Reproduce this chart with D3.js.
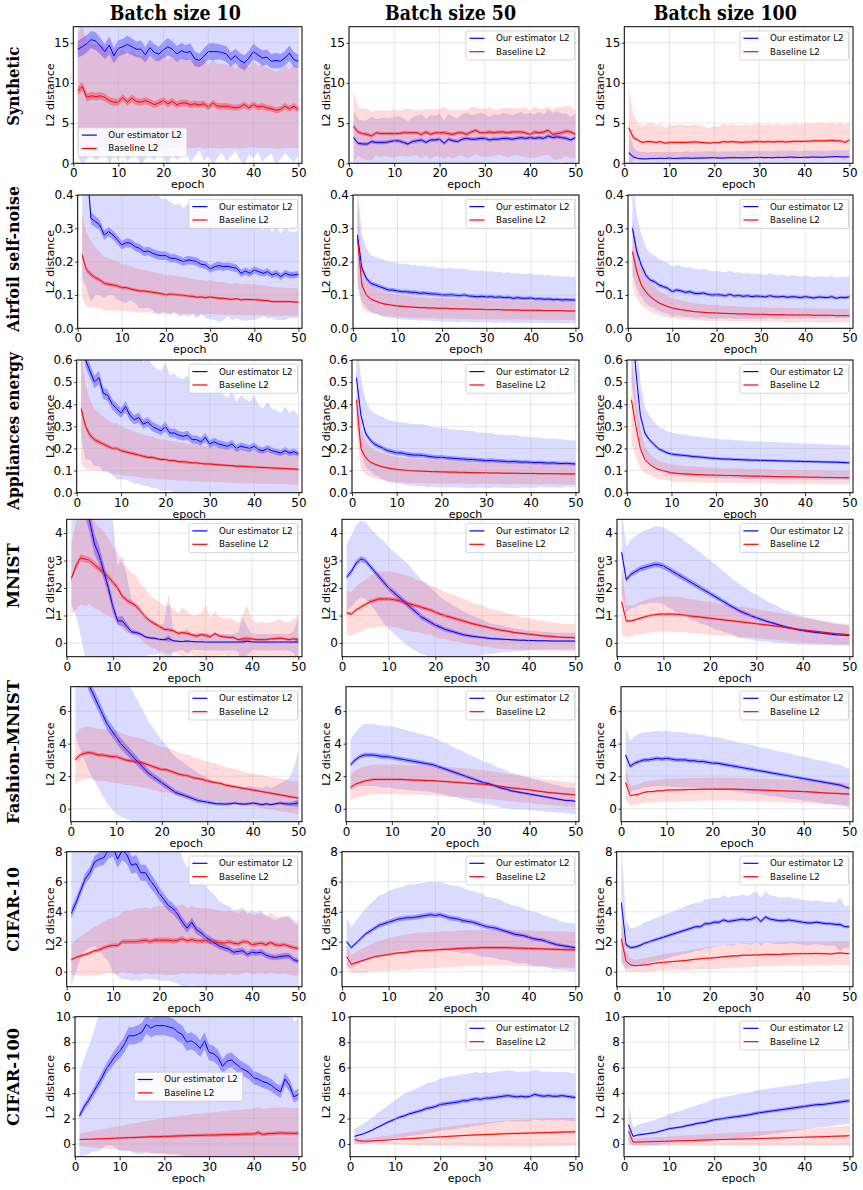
<!DOCTYPE html>
<html>
<head>
<meta charset="utf-8">
<script src="https://cdn.jsdelivr.net/npm/d3@7"></script>
<style>
  body { margin: 0; background: #fff; }
  svg { display: block; }
</style>
</head>
<body>
<div id="graf"></div>
<script>
// epocas del entrenamiento
const epocas = d3.range(1, 51)

// ---------------- Synthetic ----------------
const synB10Ours = [14.2,14.5,14.9,15.4,15.2,14.6,13.9,14.7,13.4,14.3,14.5,14.8,14.5,14.2,14.2,13.5,14.4,13.8,13.6,14.1,14.5,14.2,13.6,14.0,13.8,13.9,13.0,12.8,13.3,13.9,13.9,13.9,13.8,13.6,12.9,13.4,12.8,12.5,13.1,13.9,13.5,13.1,13.2,12.7,12.8,12.7,13.1,13.7,12.9,12.7]
const synB10OursSd = [13.2,14.8,14.4,14.2,14.9,13.8,12.4,14.9,12.5,13.9,12.9,14.6,13.7,12.9,14.6,12.9,13.3,13.5,12.1,13.4,14.7,13.0,13.2,13.1,12.4,13.8,12.2,11.2,13.0,12.9,14.2,13.2,12.5,13.4,12.0,11.9,12.4,12.6,12.0,13.3,12.1,12.9,12.4,11.5,13.0,12.2,11.8,13.0,12.8,11.8]
const synB10Base = [9.0,9.6,8.2,8.4,8.3,8.4,8.2,7.8,7.6,7.6,8.2,7.6,8.1,7.7,7.6,7.8,7.6,7.3,7.5,7.8,7.4,7.7,7.3,7.5,7.5,7.3,7.4,7.3,7.4,7.0,7.5,7.1,7.1,7.1,7.0,6.9,7.0,7.3,6.9,7.3,7.0,7.1,6.9,6.8,6.6,6.7,7.1,6.8,7.1,6.7]
const synB10BaseSd = [7.2,7.5,6.8,6.6,6.5,6.4,6.3,6.0,6.1,5.9,6.2,5.8,6.1,5.9,5.7,5.9,5.8,5.5,5.7,5.9,5.5,5.8,5.4,5.6,5.7,5.4,5.5,5.3,5.6,5.1,5.6,5.2,5.3,5.2,5.1,5.0,5.2,5.4,5.0,5.3,5.1,5.2,5.0,4.9,4.8,4.9,5.2,4.9,5.2,4.9]
const synB50Ours = [3.2,2.5,2.4,2.4,2.7,2.6,2.6,2.6,2.7,2.8,2.8,2.6,2.4,2.7,2.8,2.9,2.6,2.9,2.9,3.0,2.5,3.0,2.8,2.7,3.0,3.1,3.0,3.0,3.1,3.1,2.9,3.0,3.0,3.1,3.1,3.0,3.1,3.2,3.1,3.2,3.1,3.2,3.1,3.4,3.2,3.3,3.2,3.1,2.9,3.2]
const synB50OursSd = [3.3,3.0,2.9,3.0,3.1,2.9,3.0,3.1,2.9,3.0,3.1,3.0,2.8,3.0,3.1,3.2,2.9,3.1,3.0,3.2,2.8,3.1,3.0,2.9,3.1,3.2,3.0,3.1,3.2,3.0,2.9,3.1,3.0,3.2,3.1,3.0,3.1,3.2,3.0,3.1,3.0,3.2,3.0,3.3,3.1,3.2,3.0,3.1,2.9,3.0]
const synB50Base = [4.6,3.9,3.7,3.6,3.4,3.8,3.7,3.7,3.7,3.7,3.7,3.8,3.8,3.8,3.8,3.6,3.9,3.6,3.8,3.8,3.8,3.7,3.6,3.8,3.8,3.6,3.9,4.1,3.8,3.8,3.9,3.8,3.9,3.9,3.8,3.9,3.9,3.9,3.8,3.6,3.9,3.8,3.9,4.1,3.6,3.7,3.8,4.0,3.9,3.6]
const synB50BaseSd = [4.4,3.0,3.1,3.2,3.0,2.8,2.9,2.8,2.9,3.0,2.8,2.9,3.0,2.9,2.8,3.0,2.9,3.1,2.9,3.0,3.2,2.9,3.0,2.9,2.8,3.0,3.1,2.9,3.0,3.0,3.1,2.9,2.8,3.0,3.1,3.0,2.9,3.0,3.1,2.9,3.2,3.0,2.9,3.0,3.1,3.3,3.2,3.1,3.3,2.9]
const synB100Ours = [1.3,0.8,0.6,0.55,0.55,0.6,0.6,0.62,0.6,0.65,0.6,0.62,0.65,0.65,0.62,0.65,0.65,0.66,0.68,0.7,0.65,0.65,0.68,0.7,0.7,0.68,0.7,0.7,0.72,0.75,0.7,0.72,0.68,0.75,0.72,0.75,0.78,0.74,0.72,0.75,0.75,0.78,0.76,0.75,0.78,0.8,0.85,0.8,0.8,0.8]
const synB100OursSd = [2.5,1.3,0.9,0.85,0.8,0.8,0.84,0.8,0.76,0.8,0.84,0.8,0.78,0.84,0.8,0.82,0.78,0.8,0.84,0.8,0.78,0.82,0.8,0.78,0.84,0.8,0.79,0.82,0.8,0.78,0.84,0.8,0.78,0.82,0.8,0.79,0.84,0.8,0.78,0.82,0.8,0.78,0.84,0.8,0.79,0.82,0.8,0.78,0.84,0.8]
const synB100Base = [4.4,3.2,2.9,2.6,2.7,2.7,2.6,2.7,2.5,2.6,2.6,2.6,2.6,2.6,2.65,2.65,2.6,2.55,2.5,2.6,2.55,2.7,2.65,2.7,2.65,2.6,2.65,2.65,2.7,2.7,2.65,2.7,2.65,2.7,2.7,2.65,2.7,2.75,2.7,2.75,2.75,2.8,2.8,2.8,2.8,2.85,2.8,2.8,2.6,2.9]
const synB100BaseSd = [5.1,2.8,2.2,2.0,2.2,2.3,2.1,2.2,1.9,2.2,2.1,2.2,2.2,2.1,2.1,2.2,2.1,2.0,1.9,2.1,2.0,2.2,2.1,2.2,2.1,2.1,2.2,2.1,2.2,2.2,2.1,2.2,2.1,2.2,2.1,2.2,2.1,2.2,2.1,2.2,2.2,2.1,2.2,2.2,2.1,2.2,2.1,2.2,2.2,2.1]

// ---------------- Airfoil ----------------
const airB10Ours = [0.6,0.5,0.33,0.32,0.31,0.28,0.29,0.28,0.265,0.25,0.257,0.255,0.245,0.24,0.23,0.232,0.225,0.22,0.218,0.218,0.21,0.21,0.205,0.2,0.205,0.203,0.2,0.192,0.19,0.178,0.185,0.188,0.185,0.186,0.183,0.18,0.165,0.172,0.165,0.175,0.17,0.165,0.17,0.16,0.165,0.155,0.165,0.16,0.16,0.162]
const airB10OursSd = [0.45,0.38,0.25,0.22,0.21,0.19,0.19,0.18,0.18,0.17,0.18,0.17,0.17,0.18,0.17,0.17,0.17,0.18,0.17,0.17,0.17,0.16,0.17,0.16,0.17,0.16,0.17,0.15,0.16,0.15,0.16,0.17,0.16,0.15,0.16,0.15,0.14,0.15,0.14,0.15,0.14,0.13,0.14,0.13,0.14,0.13,0.14,0.13,0.13,0.13]
const airB10Base = [0.22,0.175,0.162,0.152,0.145,0.135,0.132,0.13,0.127,0.122,0.122,0.118,0.115,0.112,0.112,0.11,0.108,0.106,0.104,0.1,0.103,0.101,0.1,0.099,0.097,0.096,0.093,0.094,0.092,0.094,0.092,0.09,0.09,0.088,0.087,0.089,0.085,0.087,0.086,0.086,0.085,0.084,0.083,0.08,0.08,0.08,0.08,0.08,0.079,0.078]
const airB10BaseSd = [0.125,0.11,0.1,0.09,0.085,0.08,0.08,0.075,0.075,0.07,0.07,0.068,0.066,0.065,0.064,0.062,0.062,0.06,0.06,0.058,0.058,0.056,0.056,0.055,0.054,0.053,0.052,0.052,0.05,0.051,0.05,0.049,0.049,0.048,0.047,0.048,0.046,0.047,0.046,0.046,0.045,0.045,0.044,0.043,0.043,0.043,0.042,0.042,0.042,0.041]
const airB50Ours = [0.28,0.18,0.15,0.135,0.13,0.125,0.12,0.115,0.115,0.112,0.11,0.11,0.108,0.108,0.105,0.106,0.104,0.103,0.102,0.1,0.1,0.101,0.099,0.098,0.1,0.097,0.096,0.095,0.096,0.094,0.095,0.093,0.094,0.092,0.093,0.09,0.092,0.09,0.09,0.091,0.088,0.089,0.087,0.088,0.086,0.087,0.085,0.086,0.085,0.085]
const airB50OursSd = [0.15,0.1,0.09,0.085,0.085,0.085,0.085,0.085,0.084,0.084,0.083,0.084,0.082,0.083,0.082,0.082,0.081,0.082,0.08,0.08,0.08,0.081,0.079,0.08,0.079,0.078,0.078,0.077,0.078,0.076,0.077,0.076,0.076,0.075,0.075,0.074,0.075,0.074,0.073,0.074,0.072,0.073,0.072,0.072,0.071,0.071,0.07,0.071,0.07,0.07]
const airB50Base = [0.27,0.13,0.1,0.088,0.082,0.077,0.073,0.071,0.069,0.067,0.066,0.065,0.064,0.063,0.062,0.062,0.061,0.061,0.06,0.06,0.06,0.059,0.059,0.058,0.058,0.058,0.057,0.057,0.057,0.056,0.056,0.056,0.056,0.055,0.055,0.055,0.055,0.054,0.054,0.054,0.054,0.054,0.053,0.053,0.053,0.053,0.053,0.052,0.052,0.052]
const airB50BaseSd = [0.13,0.07,0.05,0.042,0.04,0.038,0.036,0.035,0.034,0.034,0.033,0.033,0.033,0.032,0.032,0.032,0.031,0.031,0.031,0.031,0.03,0.03,0.03,0.03,0.03,0.03,0.03,0.03,0.03,0.029,0.029,0.029,0.029,0.029,0.029,0.029,0.028,0.028,0.028,0.028,0.028,0.028,0.028,0.028,0.028,0.028,0.028,0.027,0.027,0.027]
const airB100Ours = [0.3,0.23,0.19,0.16,0.145,0.14,0.13,0.125,0.12,0.11,0.115,0.112,0.108,0.11,0.105,0.104,0.106,0.102,0.1,0.101,0.1,0.098,0.102,0.097,0.099,0.096,0.098,0.095,0.097,0.096,0.094,0.098,0.095,0.094,0.096,0.093,0.095,0.094,0.092,0.095,0.093,0.091,0.094,0.093,0.092,0.095,0.09,0.093,0.092,0.094]
const airB100OursSd = [0.14,0.11,0.095,0.085,0.08,0.08,0.078,0.078,0.076,0.075,0.076,0.075,0.074,0.075,0.073,0.072,0.073,0.072,0.071,0.072,0.07,0.07,0.071,0.069,0.07,0.068,0.069,0.067,0.068,0.067,0.066,0.067,0.066,0.065,0.066,0.064,0.065,0.064,0.063,0.064,0.063,0.062,0.063,0.062,0.062,0.063,0.06,0.062,0.061,0.062]
const airB100Base = [0.23,0.17,0.13,0.11,0.095,0.085,0.076,0.07,0.065,0.061,0.058,0.056,0.054,0.052,0.05,0.049,0.048,0.047,0.046,0.046,0.045,0.045,0.044,0.044,0.043,0.043,0.043,0.042,0.042,0.042,0.042,0.041,0.041,0.041,0.041,0.04,0.04,0.04,0.04,0.04,0.04,0.039,0.039,0.039,0.039,0.039,0.038,0.038,0.038,0.038]
const airB100BaseSd = [0.1,0.08,0.06,0.05,0.045,0.04,0.036,0.034,0.032,0.03,0.029,0.028,0.027,0.026,0.026,0.025,0.025,0.024,0.024,0.024,0.023,0.023,0.023,0.023,0.022,0.022,0.022,0.022,0.022,0.022,0.021,0.021,0.021,0.021,0.021,0.021,0.021,0.021,0.02,0.02,0.02,0.02,0.02,0.02,0.02,0.02,0.02,0.02,0.02,0.02]

// ---------------- Appliances ----------------
const appB10Ours = [0.75,0.6,0.55,0.5,0.52,0.45,0.44,0.4,0.38,0.36,0.39,0.35,0.33,0.34,0.31,0.32,0.3,0.29,0.28,0.3,0.27,0.27,0.26,0.255,0.26,0.24,0.24,0.23,0.25,0.22,0.23,0.22,0.215,0.21,0.22,0.2,0.21,0.205,0.2,0.21,0.195,0.19,0.2,0.19,0.185,0.18,0.19,0.18,0.185,0.175]
const appB10OursSd = [0.5,0.45,0.4,0.38,0.4,0.35,0.34,0.32,0.32,0.3,0.33,0.3,0.29,0.3,0.28,0.29,0.28,0.27,0.27,0.29,0.26,0.27,0.26,0.26,0.27,0.25,0.25,0.24,0.27,0.23,0.25,0.24,0.23,0.22,0.24,0.21,0.23,0.22,0.21,0.23,0.2,0.19,0.21,0.19,0.19,0.18,0.2,0.18,0.19,0.17]
const appB10Base = [0.38,0.3,0.26,0.24,0.23,0.22,0.21,0.2,0.2,0.19,0.185,0.18,0.175,0.17,0.165,0.16,0.16,0.155,0.15,0.15,0.145,0.145,0.14,0.14,0.138,0.135,0.135,0.132,0.13,0.13,0.128,0.126,0.125,0.123,0.122,0.12,0.12,0.118,0.117,0.116,0.115,0.114,0.113,0.112,0.111,0.11,0.109,0.108,0.107,0.105]
const appB10BaseSd = [0.25,0.19,0.16,0.14,0.13,0.125,0.12,0.115,0.115,0.11,0.108,0.105,0.102,0.1,0.098,0.096,0.095,0.093,0.091,0.09,0.089,0.088,0.087,0.086,0.085,0.084,0.083,0.082,0.081,0.08,0.08,0.079,0.078,0.078,0.077,0.076,0.076,0.075,0.075,0.074,0.074,0.073,0.073,0.072,0.072,0.071,0.071,0.07,0.07,0.07]
const appB50Ours = [0.52,0.35,0.27,0.24,0.22,0.21,0.2,0.19,0.185,0.18,0.18,0.175,0.172,0.17,0.17,0.168,0.165,0.162,0.16,0.16,0.158,0.156,0.155,0.153,0.152,0.15,0.15,0.148,0.147,0.145,0.146,0.144,0.143,0.142,0.14,0.141,0.14,0.138,0.139,0.137,0.136,0.137,0.135,0.134,0.135,0.133,0.132,0.133,0.131,0.13]
const appB50OursSd = [0.2,0.17,0.15,0.14,0.14,0.14,0.14,0.14,0.14,0.14,0.14,0.14,0.14,0.14,0.14,0.14,0.14,0.135,0.135,0.135,0.135,0.13,0.13,0.13,0.13,0.13,0.13,0.125,0.125,0.125,0.125,0.12,0.12,0.12,0.12,0.12,0.12,0.115,0.115,0.115,0.115,0.11,0.11,0.11,0.11,0.11,0.11,0.105,0.105,0.105]
const appB50Base = [0.42,0.2,0.16,0.14,0.13,0.122,0.116,0.112,0.108,0.105,0.103,0.101,0.1,0.099,0.098,0.097,0.096,0.095,0.095,0.094,0.094,0.093,0.093,0.092,0.092,0.091,0.091,0.09,0.09,0.09,0.089,0.089,0.089,0.088,0.088,0.088,0.088,0.087,0.087,0.087,0.087,0.086,0.086,0.086,0.086,0.086,0.085,0.085,0.085,0.085]
const appB50BaseSd = [0.15,0.09,0.075,0.068,0.064,0.062,0.06,0.059,0.058,0.057,0.056,0.056,0.055,0.055,0.054,0.054,0.054,0.053,0.053,0.053,0.052,0.052,0.052,0.052,0.051,0.051,0.051,0.051,0.05,0.05,0.05,0.05,0.05,0.05,0.05,0.049,0.049,0.049,0.049,0.049,0.049,0.049,0.048,0.048,0.048,0.048,0.048,0.048,0.048,0.048]
const appB100Ours = [0.8,0.55,0.35,0.27,0.24,0.22,0.2,0.19,0.18,0.175,0.172,0.17,0.168,0.166,0.163,0.162,0.16,0.158,0.156,0.155,0.153,0.152,0.152,0.15,0.15,0.149,0.148,0.147,0.147,0.146,0.146,0.145,0.145,0.144,0.144,0.143,0.143,0.142,0.142,0.141,0.141,0.14,0.14,0.139,0.139,0.138,0.138,0.137,0.136,0.135]
const appB100OursSd = [0.3,0.2,0.15,0.12,0.11,0.105,0.1,0.1,0.098,0.097,0.096,0.095,0.094,0.093,0.092,0.092,0.091,0.09,0.09,0.089,0.089,0.088,0.088,0.087,0.087,0.087,0.086,0.086,0.085,0.085,0.085,0.084,0.084,0.084,0.083,0.083,0.083,0.082,0.082,0.082,0.081,0.081,0.081,0.08,0.08,0.08,0.08,0.079,0.079,0.079]
const appB100Base = [0.42,0.3,0.2,0.15,0.13,0.115,0.105,0.1,0.095,0.09,0.088,0.086,0.085,0.084,0.083,0.082,0.081,0.08,0.08,0.079,0.079,0.078,0.078,0.077,0.077,0.076,0.076,0.075,0.075,0.075,0.074,0.074,0.073,0.073,0.072,0.072,0.072,0.071,0.071,0.071,0.07,0.07,0.07,0.069,0.069,0.069,0.068,0.068,0.068,0.068]
const appB100BaseSd = [0.2,0.14,0.09,0.06,0.05,0.045,0.042,0.04,0.039,0.038,0.037,0.037,0.036,0.036,0.035,0.035,0.035,0.034,0.034,0.034,0.034,0.033,0.033,0.033,0.033,0.033,0.032,0.032,0.032,0.032,0.032,0.032,0.031,0.031,0.031,0.031,0.031,0.031,0.03,0.03,0.03,0.03,0.03,0.03,0.03,0.03,0.03,0.03,0.03,0.03]

// ---------------- MNIST ----------------
const mnB10Ours = [8.0,7.0,5.8,5.0,4.4,3.6,3.2,2.6,2.0,1.3,0.8,0.8,0.6,0.4,0.38,0.32,0.22,0.18,0.17,0.13,0.12,0.16,0.08,0.06,0.05,0.07,0.05,0.04,0.04,0.03,0.03,0.03,0.03,0.03,0.03,0.03,0.03,0.04,0.06,0.04,0.03,0.03,0.03,0.03,0.03,0.03,0.03,0.03,0.03,0.04]
const mnB10OursSd = [6.6,6.0,5.5,5.6,5.6,5.0,4.5,4.0,3.5,3.0,2.0,2.4,1.8,1.2,1.0,0.8,0.7,0.6,0.6,0.5,0.6,1.6,0.4,0.35,0.3,0.45,0.3,0.3,0.3,0.3,0.3,0.3,0.3,0.3,0.3,0.3,0.35,0.9,0.5,0.3,0.3,0.3,0.3,0.3,0.3,0.3,0.3,0.3,0.4,0.9]
const mnB10Base = [2.35,2.8,3.1,3.05,3.0,2.85,2.7,2.55,2.4,2.2,2.0,1.7,1.55,1.45,1.35,1.15,0.95,0.8,0.7,0.6,0.5,0.48,0.45,0.35,0.38,0.35,0.3,0.25,0.3,0.28,0.22,0.35,0.25,0.22,0.2,0.2,0.12,0.15,0.15,0.15,0.12,0.12,0.12,0.15,0.15,0.18,0.15,0.12,0.15,0.12]
const mnB10BaseSd = [1.3,1.6,1.7,1.7,1.6,1.6,1.5,1.5,1.4,1.3,1.3,1.2,1.2,1.1,1.1,1.0,1.0,0.95,0.9,0.9,0.85,0.9,0.8,0.75,0.9,0.8,0.7,0.75,0.8,1.1,0.7,0.8,0.7,0.65,0.7,0.65,0.6,0.9,1.2,0.7,0.6,0.65,0.6,0.6,0.65,0.7,0.6,0.65,0.7,0.9]
const mnB50Ours = [2.4,2.6,2.9,3.05,3.0,2.8,2.6,2.4,2.2,2.0,1.85,1.7,1.55,1.4,1.25,1.1,0.95,0.85,0.75,0.65,0.58,0.5,0.45,0.4,0.35,0.3,0.27,0.24,0.22,0.2,0.18,0.16,0.15,0.14,0.13,0.12,0.11,0.1,0.1,0.09,0.09,0.08,0.08,0.08,0.07,0.07,0.07,0.07,0.07,0.07]
const mnB50OursSd = [1.2,1.3,1.4,1.4,1.4,1.4,1.4,1.45,1.5,1.5,1.5,1.5,1.5,1.5,1.45,1.4,1.35,1.3,1.25,1.2,1.1,1.05,1.0,0.95,0.9,0.85,0.8,0.75,0.7,0.65,0.6,0.55,0.52,0.5,0.47,0.45,0.42,0.4,0.38,0.36,0.35,0.34,0.33,0.32,0.31,0.3,0.3,0.3,0.3,0.3]
const mnB50Base = [1.1,1.05,1.2,1.3,1.4,1.5,1.55,1.6,1.6,1.6,1.58,1.55,1.5,1.45,1.4,1.35,1.3,1.25,1.2,1.12,1.05,1.0,0.95,0.9,0.85,0.8,0.75,0.7,0.66,0.62,0.58,0.54,0.5,0.47,0.44,0.41,0.38,0.36,0.34,0.32,0.3,0.28,0.26,0.25,0.24,0.22,0.21,0.2,0.2,0.19]
const mnB50BaseSd = [0.8,0.8,0.85,0.9,0.9,0.95,1.0,1.0,1.0,1.0,1.0,1.0,1.0,1.0,1.0,0.95,0.95,0.95,0.9,0.9,0.9,0.85,0.85,0.85,0.8,0.8,0.8,0.75,0.75,0.75,0.7,0.7,0.7,0.68,0.66,0.64,0.62,0.6,0.6,0.58,0.56,0.55,0.54,0.53,0.52,0.51,0.5,0.5,0.5,0.5]
const mnB100Ours = [3.3,2.3,2.5,2.6,2.7,2.75,2.8,2.85,2.85,2.8,2.7,2.6,2.5,2.4,2.3,2.2,2.1,2.0,1.9,1.8,1.7,1.6,1.5,1.4,1.3,1.2,1.12,1.05,0.98,0.92,0.86,0.8,0.75,0.7,0.65,0.6,0.56,0.52,0.48,0.45,0.42,0.4,0.38,0.36,0.34,0.32,0.3,0.29,0.28,0.27]
const mnB100OursSd = [1.5,1.2,1.25,1.3,1.3,1.35,1.35,1.4,1.4,1.4,1.4,1.4,1.4,1.4,1.35,1.35,1.3,1.3,1.25,1.2,1.2,1.15,1.1,1.05,1.0,1.0,0.95,0.9,0.85,0.85,0.8,0.75,0.7,0.7,0.65,0.6,0.6,0.55,0.55,0.5,0.5,0.48,0.46,0.44,0.42,0.4,0.4,0.38,0.38,0.36]
const mnB100Base = [1.5,0.8,0.8,0.85,0.9,0.95,1.0,1.02,1.05,1.05,1.05,1.05,1.04,1.02,1.0,0.98,0.96,0.94,0.92,0.9,0.88,0.86,0.84,0.82,0.8,0.78,0.76,0.74,0.72,0.7,0.68,0.66,0.64,0.62,0.6,0.57,0.54,0.52,0.5,0.48,0.46,0.44,0.42,0.4,0.38,0.36,0.34,0.33,0.32,0.3]
const mnB100BaseSd = [1.2,0.6,0.55,0.55,0.6,0.6,0.62,0.62,0.64,0.64,0.64,0.64,0.64,0.63,0.62,0.62,0.61,0.6,0.6,0.6,0.59,0.58,0.58,0.57,0.56,0.56,0.55,0.54,0.54,0.53,0.52,0.52,0.51,0.5,0.5,0.49,0.48,0.47,0.46,0.45,0.45,0.44,0.43,0.42,0.41,0.4,0.4,0.39,0.38,0.37]

// ---------------- Fashion-MNIST ----------------
const faB10Ours = [10.0,9.2,8.4,7.6,7.0,6.4,5.8,5.2,4.8,4.4,4.0,3.7,3.4,3.1,2.8,2.5,2.2,2.0,1.8,1.6,1.4,1.2,1.0,0.9,0.8,0.7,0.6,0.5,0.45,0.4,0.35,0.3,0.3,0.28,0.3,0.35,0.3,0.28,0.3,0.35,0.3,0.25,0.3,0.25,0.3,0.35,0.3,0.28,0.3,0.35]
const faB10OursSd = [5.5,5.5,5.4,5.3,5.2,5.1,5.0,4.9,4.8,4.7,4.5,4.3,4.1,3.9,3.7,3.5,3.2,3.0,2.8,2.6,2.5,2.3,2.2,2.1,2.0,1.9,1.8,1.7,1.6,1.5,1.4,1.3,1.3,1.2,1.2,1.1,1.1,1.0,1.1,1.0,1.0,1.0,1.1,1.0,1.1,1.2,1.4,1.6,2.2,3.2]
const faB10Base = [3.0,3.3,3.4,3.45,3.4,3.3,3.3,3.25,3.2,3.2,3.1,3.0,2.95,2.9,2.85,2.8,2.7,2.6,2.5,2.4,2.4,2.3,2.2,2.1,2.05,2.0,1.9,1.85,1.8,1.7,1.65,1.6,1.55,1.45,1.4,1.35,1.3,1.25,1.2,1.15,1.1,1.05,1.0,0.95,0.9,0.85,0.8,0.75,0.7,0.65]
const faB10BaseSd = [1.5,1.6,1.6,1.6,1.6,1.6,1.6,1.6,1.6,1.6,1.55,1.55,1.5,1.5,1.5,1.5,1.45,1.45,1.4,1.4,1.4,1.35,1.35,1.3,1.3,1.3,1.25,1.25,1.2,1.2,1.2,1.15,1.15,1.1,1.1,1.1,1.05,1.05,1.0,1.0,1.0,1.0,1.0,1.0,1.0,1.0,1.0,1.0,1.0,1.0]
const faB50Ours = [2.7,3.0,3.2,3.3,3.3,3.3,3.25,3.2,3.2,3.15,3.1,3.05,3.0,2.95,2.9,2.85,2.8,2.75,2.7,2.6,2.5,2.4,2.3,2.2,2.1,2.0,1.9,1.8,1.7,1.6,1.55,1.45,1.35,1.25,1.2,1.1,1.05,1.0,0.95,0.9,0.85,0.8,0.75,0.7,0.65,0.6,0.55,0.5,0.5,0.45]
const faB50OursSd = [1.6,1.7,1.8,1.9,1.9,1.9,1.9,1.9,1.9,1.9,1.9,1.85,1.85,1.8,1.8,1.75,1.75,1.7,1.7,1.65,1.6,1.6,1.55,1.5,1.5,1.45,1.4,1.4,1.35,1.3,1.3,1.25,1.2,1.2,1.15,1.1,1.1,1.05,1.0,1.0,0.95,0.95,0.9,0.9,0.85,0.85,0.8,0.8,0.8,0.8]
const faB50Base = [1.3,1.5,1.6,1.7,1.75,1.8,1.8,1.8,1.8,1.8,1.8,1.8,1.78,1.77,1.76,1.75,1.74,1.73,1.72,1.7,1.68,1.66,1.64,1.62,1.6,1.58,1.56,1.54,1.52,1.5,1.47,1.44,1.4,1.36,1.32,1.28,1.25,1.22,1.19,1.16,1.12,1.08,1.04,1.0,0.98,0.95,0.92,0.9,0.88,0.85]
const faB50BaseSd = [0.8,0.85,0.9,0.9,0.9,0.9,0.9,0.9,0.9,0.9,0.9,0.9,0.9,0.9,0.9,0.9,0.9,0.9,0.9,0.9,0.9,0.9,0.9,0.9,0.9,0.9,0.9,0.88,0.88,0.88,0.86,0.86,0.86,0.84,0.84,0.84,0.82,0.82,0.82,0.8,0.8,0.8,0.78,0.78,0.78,0.76,0.76,0.76,0.75,0.75]
const faB100Ours = [3.3,2.6,2.8,2.9,3.0,3.0,3.05,3.1,3.05,3.1,3.05,3.0,3.0,3.0,2.95,2.95,2.9,2.9,2.85,2.8,2.8,2.75,2.7,2.65,2.6,2.55,2.5,2.45,2.4,2.35,2.3,2.25,2.2,2.15,2.1,2.05,2.0,1.95,1.9,1.85,1.8,1.75,1.7,1.65,1.6,1.55,1.5,1.45,1.35,1.25]
const faB100OursSd = [1.8,1.6,1.65,1.7,1.7,1.7,1.7,1.7,1.7,1.7,1.7,1.7,1.7,1.7,1.65,1.65,1.65,1.65,1.6,1.6,1.6,1.6,1.55,1.55,1.55,1.5,1.5,1.5,1.5,1.45,1.45,1.45,1.45,1.4,1.4,1.4,1.4,1.35,1.35,1.35,1.35,1.3,1.3,1.3,1.3,1.25,1.25,1.25,1.2,1.2]
const faB100Base = [1.6,0.8,0.85,0.9,1.0,1.05,1.05,1.1,1.1,1.15,1.15,1.15,1.16,1.17,1.18,1.18,1.19,1.2,1.2,1.2,1.2,1.2,1.2,1.2,1.2,1.19,1.18,1.17,1.16,1.15,1.14,1.13,1.12,1.11,1.1,1.09,1.08,1.07,1.06,1.05,1.04,1.02,1.0,0.98,0.96,0.95,0.94,0.92,0.91,0.9]
const faB100BaseSd = [1.0,0.6,0.6,0.62,0.65,0.66,0.67,0.68,0.69,0.7,0.7,0.7,0.7,0.7,0.7,0.7,0.7,0.7,0.7,0.7,0.7,0.7,0.7,0.7,0.7,0.7,0.7,0.7,0.7,0.7,0.7,0.7,0.7,0.7,0.7,0.7,0.7,0.7,0.7,0.7,0.7,0.7,0.7,0.7,0.7,0.7,0.7,0.7,0.7,0.7]

// ---------------- CIFAR-10 ----------------
const c10B10Ours = [3.9,4.6,5.4,6.2,6.6,7.3,7.5,7.6,8.1,8.3,7.5,8.1,7.8,7.1,7.2,6.6,6.6,6.1,5.7,5.2,4.8,4.4,4.2,3.8,3.3,2.9,3.3,2.8,2.6,2.3,2.1,1.9,1.7,1.6,1.5,1.3,1.35,1.4,1.15,1.3,1.25,1.3,1.1,1.0,0.95,1.0,1.05,1.05,0.8,0.7]
const c10B10OursSd = [4.8,4.6,4.5,4.8,5.0,5.6,6.0,6.6,7.4,8.4,7.8,8.6,8.3,7.7,7.8,7.2,7.1,6.6,6.2,5.8,5.4,5.0,4.9,4.6,4.3,4.0,4.2,3.8,3.6,3.4,3.3,3.2,3.0,2.9,2.9,2.8,2.8,2.9,2.7,2.8,2.7,2.8,2.6,2.6,2.5,2.6,2.6,2.7,2.5,2.4]
const c10B10Base = [0.8,0.95,1.05,1.15,1.25,1.4,1.45,1.6,1.7,1.75,1.75,2.0,2.0,2.0,2.0,2.05,2.1,2.0,2.1,2.1,2.1,2.1,2.05,2.1,2.2,2.05,2.15,2.05,2.05,2.05,2.0,2.0,1.95,1.9,2.0,1.9,1.85,2.0,2.0,1.8,1.85,1.9,1.8,1.95,1.8,1.75,1.8,1.7,1.6,1.55]
const c10B10BaseSd = [1.0,1.2,1.3,1.4,1.5,1.6,1.7,1.75,1.8,1.85,1.9,2.0,2.1,2.1,2.2,2.2,2.2,2.2,2.25,2.25,2.3,2.3,2.25,2.3,2.3,2.2,2.25,2.2,2.2,2.2,2.2,2.15,2.15,2.1,2.1,2.1,2.05,2.1,2.05,2.0,2.0,2.0,1.95,2.0,1.95,1.9,1.9,1.9,1.85,1.8]
const c10B50Ours = [2.0,1.6,1.9,2.2,2.5,2.7,2.9,3.1,3.2,3.3,3.4,3.5,3.55,3.6,3.6,3.65,3.7,3.75,3.8,3.75,3.8,3.7,3.6,3.55,3.5,3.4,3.35,3.3,3.2,3.1,3.0,2.95,2.9,2.8,2.7,2.6,2.5,2.45,2.4,2.3,2.2,2.15,2.1,2.0,1.9,1.8,1.75,1.7,1.65,1.6]
const c10B50OursSd = [1.6,1.4,1.5,1.6,1.7,1.8,1.9,2.0,2.0,2.1,2.1,2.1,2.1,2.2,2.2,2.2,2.2,2.2,2.2,2.2,2.2,2.2,2.2,2.2,2.2,2.2,2.1,2.1,2.1,2.1,2.0,2.0,2.0,2.0,1.9,1.9,1.9,1.9,1.8,1.8,1.8,1.8,1.7,1.7,1.7,1.7,1.6,1.6,1.6,1.6]
const c10B50Base = [1.0,0.5,0.6,0.7,0.8,0.9,1.0,1.05,1.1,1.15,1.2,1.25,1.28,1.3,1.35,1.38,1.4,1.42,1.44,1.45,1.47,1.49,1.5,1.52,1.55,1.56,1.57,1.58,1.59,1.6,1.6,1.6,1.6,1.6,1.6,1.59,1.58,1.57,1.56,1.55,1.54,1.53,1.52,1.51,1.5,1.49,1.48,1.47,1.46,1.45]
const c10B50BaseSd = [0.8,0.6,0.7,0.8,0.85,0.9,0.95,1.0,1.05,1.1,1.1,1.15,1.15,1.2,1.2,1.2,1.2,1.2,1.2,1.2,1.2,1.2,1.2,1.2,1.2,1.2,1.2,1.2,1.2,1.2,1.2,1.2,1.2,1.2,1.2,1.2,1.2,1.2,1.2,1.2,1.2,1.2,1.2,1.2,1.2,1.2,1.2,1.2,1.2,1.2]
const c10B100Ours = [4.6,1.8,1.6,1.65,1.75,1.9,2.0,2.1,2.2,2.3,2.4,2.5,2.6,2.7,2.8,2.9,3.0,3.0,3.2,3.2,3.3,3.3,3.45,3.35,3.4,3.45,3.5,3.45,3.5,3.65,3.35,3.65,3.5,3.45,3.4,3.4,3.45,3.4,3.35,3.3,3.25,3.25,3.3,3.25,3.2,3.2,3.15,3.15,3.0,3.0]
const c10B100OursSd = [4.0,1.6,1.3,1.3,1.35,1.4,1.4,1.45,1.45,1.5,1.5,1.5,1.55,1.55,1.6,1.6,1.6,1.6,1.65,1.65,1.65,1.6,1.65,1.6,1.65,1.6,1.65,1.6,1.7,1.7,1.6,1.7,1.6,1.6,1.55,1.55,1.55,1.5,1.5,1.5,1.5,1.45,1.45,1.45,1.45,1.45,1.45,1.8,1.4,1.4]
const c10B100Base = [2.2,0.7,0.45,0.4,0.42,0.45,0.5,0.55,0.6,0.62,0.65,0.68,0.7,0.73,0.75,0.8,0.83,0.86,0.9,0.9,0.93,0.96,1.0,1.02,1.05,1.05,1.1,1.1,1.1,1.12,1.12,1.15,1.15,1.15,1.15,1.18,1.18,1.2,1.2,1.2,1.2,1.2,1.22,1.2,1.2,1.18,1.22,1.25,1.22,1.2]
const c10B100BaseSd = [1.5,0.7,0.45,0.4,0.42,0.45,0.48,0.5,0.52,0.54,0.56,0.58,0.6,0.62,0.64,0.66,0.68,0.7,0.72,0.74,0.75,0.76,0.77,0.78,0.78,0.78,0.78,0.78,0.78,0.78,0.78,0.78,0.78,0.78,0.78,0.78,0.78,0.78,0.78,0.78,0.78,0.78,0.78,0.78,0.78,0.78,0.78,0.78,0.78,0.78]

// ---------------- CIFAR-100 ----------------
const c100B10Ours = [2.2,2.9,3.4,4.0,4.6,5.2,5.9,6.4,6.9,7.3,7.8,8.5,8.5,8.6,8.8,9.4,9.1,9.3,9.3,9.3,9.2,9.1,8.8,8.6,8.0,8.1,7.9,7.5,8.1,7.2,7.1,6.8,6.1,6.5,6.6,6.3,6.0,5.8,5.6,5.2,5.1,4.9,4.8,4.6,4.3,4.1,5.1,4.6,3.7,3.9]
const c100B10OursSd = [3.3,3.8,4.2,4.6,5.2,5.6,6.0,6.5,7.2,7.8,8.4,9.0,9.2,9.4,9.6,10.0,9.8,10.0,10.0,10.0,10.0,9.9,9.6,9.5,9.0,9.1,8.9,8.6,9.0,8.4,8.3,8.1,7.6,7.8,7.9,7.6,7.4,7.3,7.1,6.9,6.8,6.7,6.6,6.5,6.3,6.2,6.8,6.5,5.9,6.0]
const c100B10Base = [0.35,0.36,0.37,0.38,0.4,0.41,0.42,0.44,0.45,0.47,0.48,0.5,0.5,0.52,0.53,0.55,0.56,0.57,0.58,0.6,0.6,0.62,0.63,0.64,0.65,0.66,0.67,0.68,0.69,0.7,0.7,0.71,0.72,0.73,0.74,0.75,0.76,0.77,0.78,0.78,0.9,0.75,0.8,0.82,0.84,0.86,0.85,0.84,0.83,0.85]
const c100B10BaseSd = [0.5,0.55,0.6,0.65,0.7,0.75,0.8,0.85,0.9,0.95,1.0,1.05,1.1,1.15,1.2,1.25,1.3,1.35,1.4,1.45,1.5,1.5,1.55,1.6,1.6,1.65,1.7,1.7,1.75,1.75,1.8,1.8,1.85,1.85,1.9,1.9,1.9,1.95,1.95,2.0,2.0,2.0,2.0,2.0,2.0,2.0,2.0,2.0,2.0,2.0]
const c100B50Ours = [0.6,0.7,0.8,0.95,1.1,1.3,1.45,1.65,1.8,1.95,2.1,2.2,2.35,2.45,2.55,2.65,2.8,2.85,2.95,3.1,3.15,3.2,3.25,3.3,3.4,3.4,3.5,3.55,3.5,3.6,3.6,3.65,3.7,3.75,3.8,3.75,3.7,3.75,3.7,3.75,3.9,3.8,3.75,3.8,3.75,3.75,3.8,3.75,3.7,3.65]
const c100B50OursSd = [0.6,0.7,0.8,0.9,1.0,1.1,1.2,1.3,1.4,1.5,1.6,1.7,1.75,1.8,1.85,1.9,1.95,2.0,2.0,2.05,2.1,2.1,2.1,2.1,2.1,2.1,2.1,2.1,2.05,2.05,2.0,2.0,2.0,2.0,2.0,2.0,1.95,1.95,1.95,1.95,1.95,1.95,1.9,1.9,1.9,1.9,1.9,1.9,1.9,1.9]
const c100B50Base = [0.35,0.25,0.22,0.22,0.24,0.26,0.28,0.3,0.33,0.36,0.38,0.4,0.42,0.44,0.46,0.48,0.5,0.52,0.54,0.56,0.58,0.6,0.62,0.64,0.66,0.68,0.7,0.71,0.72,0.74,0.75,0.77,0.78,0.8,0.81,0.82,0.83,0.84,0.85,0.86,0.87,0.88,0.89,0.9,0.91,0.92,0.93,0.94,0.95,0.96]
const c100B50BaseSd = [0.25,0.2,0.2,0.22,0.25,0.28,0.3,0.33,0.36,0.4,0.43,0.46,0.5,0.53,0.56,0.6,0.63,0.66,0.7,0.72,0.75,0.78,0.8,0.82,0.85,0.88,0.9,0.92,0.94,0.96,0.98,1.0,1.0,1.02,1.04,1.05,1.06,1.07,1.08,1.09,1.1,1.1,1.1,1.1,1.1,1.1,1.1,1.1,1.1,1.1]
const c100B100Ours = [1.5,0.6,0.7,0.75,0.8,0.85,0.9,1.0,1.1,1.2,1.25,1.3,1.35,1.45,1.5,1.6,1.65,1.7,1.8,1.9,1.95,2.0,2.05,2.1,2.15,2.2,2.25,2.3,2.4,2.45,2.5,2.55,2.6,2.65,2.7,2.75,2.8,2.85,2.9,2.95,3.0,3.05,3.1,3.1,3.15,3.2,3.25,3.3,3.35,3.4]
const c100B100OursSd = [1.6,0.7,0.8,0.85,0.9,0.95,1.0,1.05,1.1,1.15,1.2,1.25,1.3,1.35,1.4,1.45,1.5,1.55,1.6,1.65,1.65,1.7,1.7,1.7,1.75,1.75,1.75,1.75,1.8,1.8,1.8,1.8,1.8,1.8,1.8,1.8,1.8,1.8,1.8,1.8,1.8,1.8,1.8,1.8,1.8,1.8,1.8,1.8,1.8,1.8]
const c100B100Base = [1.0,0.15,0.15,0.16,0.17,0.18,0.19,0.2,0.21,0.22,0.24,0.25,0.26,0.27,0.28,0.29,0.3,0.31,0.32,0.33,0.34,0.35,0.36,0.37,0.38,0.39,0.4,0.41,0.42,0.43,0.44,0.45,0.46,0.47,0.48,0.49,0.5,0.51,0.52,0.53,0.54,0.55,0.56,0.57,0.58,0.6,0.61,0.62,0.63,0.65]
const c100B100BaseSd = [0.8,0.3,0.3,0.3,0.32,0.33,0.34,0.35,0.36,0.37,0.38,0.39,0.4,0.41,0.42,0.43,0.44,0.45,0.46,0.47,0.48,0.49,0.5,0.51,0.52,0.53,0.54,0.55,0.56,0.57,0.58,0.59,0.6,0.61,0.62,0.63,0.64,0.65,0.66,0.67,0.68,0.69,0.7,0.71,0.72,0.73,0.74,0.75,0.76,0.77]

// etiquetas y ejes
const columnas = ["Batch size 10", "Batch size 50", "Batch size 100"]
const filas = ["Synthetic", "Airfoil self-noise", "Appliances energy", "MNIST", "Fashion-MNIST", "CIFAR-10", "CIFAR-100"]
const yDominios = [[0, 17], [0, 0.4], [0, 0.6], [-0.5, 4.5], [-0.8, 7.5], [-1, 8], [-1, 10]]
const yTicks = [[0, 5, 10, 15], [0, 0.1, 0.2, 0.3, 0.4], [0, 0.1, 0.2, 0.3, 0.4, 0.5, 0.6], [0, 1, 2, 3, 4], [0, 2, 4, 6], [0, 2, 4, 6, 8], [0, 2, 4, 6, 8, 10]]
const xTicks = [0, 10, 20, 30, 40, 50]
const leyendaTxt = ["Our estimator L2", "Baseline L2"]

// series por panel: [media, sd] para nuestro estimador y para el baseline
const series = [
  [[synB10Ours, synB10OursSd, synB10Base, synB10BaseSd], [synB50Ours, synB50OursSd, synB50Base, synB50BaseSd], [synB100Ours, synB100OursSd, synB100Base, synB100BaseSd]],
  [[airB10Ours, airB10OursSd, airB10Base, airB10BaseSd], [airB50Ours, airB50OursSd, airB50Base, airB50BaseSd], [airB100Ours, airB100OursSd, airB100Base, airB100BaseSd]],
  [[appB10Ours, appB10OursSd, appB10Base, appB10BaseSd], [appB50Ours, appB50OursSd, appB50Base, appB50BaseSd], [appB100Ours, appB100OursSd, appB100Base, appB100BaseSd]],
  [[mnB10Ours, mnB10OursSd, mnB10Base, mnB10BaseSd], [mnB50Ours, mnB50OursSd, mnB50Base, mnB50BaseSd], [mnB100Ours, mnB100OursSd, mnB100Base, mnB100BaseSd]],
  [[faB10Ours, faB10OursSd, faB10Base, faB10BaseSd], [faB50Ours, faB50OursSd, faB50Base, faB50BaseSd], [faB100Ours, faB100OursSd, faB100Base, faB100BaseSd]],
  [[c10B10Ours, c10B10OursSd, c10B10Base, c10B10BaseSd], [c10B50Ours, c10B50OursSd, c10B50Base, c10B50BaseSd], [c10B100Ours, c10B100OursSd, c10B100Base, c10B100BaseSd]],
  [[c100B10Ours, c100B10OursSd, c100B10Base, c100B10BaseSd], [c100B50Ours, c100B50OursSd, c100B50Base, c100B50BaseSd], [c100B100Ours, c100B100OursSd, c100B100Base, c100B100BaseSd]],
]

// factor para la banda angosta (error estandar)
const factorEE = 0.075

// posiciones de los paneles (px)
const arriba = [26.7, 195, 360, 519.3, 686.7, 851.7, 1016.7]
const abajo = [163.3, 328.3, 492.7, 656.7, 821.7, 986.7, 1156.7]
const izquierda = [
  [73.3, 349, 624.3],
  [77.7, 353, 628],
  [76.7, 352, 627],
  [66.7, 342, 617],
  [70.7, 346, 621],
  [66.7, 342, 616.7],
  [75, 350, 624],
]
const derecha = [302, 579, 853]
const locLeyenda = [
  ["lower left", "upper right", "upper right"],
  ["upper right", "upper right", "upper right"],
  ["upper right", "upper right", "upper right"],
  ["upper right", "upper right", "upper right"],
  ["upper right", "upper right", "upper right"],
  ["upper right", "upper right", "upper right"],
  ["center", "upper right", "upper right"],
]
const tituloX = [175.3, 450.5, 725.3]
const tituloLargo = [131, 131, 143]
const yLabelX = [54, 329.5, 604]
// centro y largo de las etiquetas de fila
const filaCentro = [86.3, 259, 431, 575.8, 752, 909.5, 1077]
const filaLargo = [79, 146, 158, 65, 144, 85, 98]

const azul = "#0000ff"
const rojo = "#ff0000"

const svg = d3.select("#graf")
  .append("svg")
  .attr("width", 863)
  .attr("height", 1190)

// titulos de columna
columnas.forEach((c, j) => {
  svg.append("text")
    .attr("x", tituloX[j])
    .attr("y", 20)
    .attr("text-anchor", "middle")
    .attr("font-family", "DejaVu Serif")
    .attr("font-weight", "bold")
    .attr("font-size", 20)
    .attr("textLength", tituloLargo[j])
    .attr("lengthAdjust", "spacingAndGlyphs")
    .text(c)
})

const dibujarLeyenda = (loc, left, right, top, bottom) => {
  const g = svg.append("g")
  const caja = g.append("rect")
  const txts = leyendaTxt.map((t, k) => g.append("text")
    .attr("x", 30)
    .attr("y", 10.3 + 13.4 * k)
    .attr("font-family", "DejaVu Sans")
    .attr("font-size", 8.7)
    .text(t))
  leyendaTxt.forEach((t, k) => {
    g.append("line")
      .attr("x1", 3.5).attr("x2", 18.5)
      .attr("y1", 7.3 + 13.4 * k).attr("y2", 7.3 + 13.4 * k)
      .attr("stroke", k == 0 ? azul : rojo)
      .attr("stroke-width", 1.2)
  })
  const anchoTxt = d3.max(txts, t => t.node().getComputedTextLength())
  const w = 30 + anchoTxt + 5
  const h = 29
  caja.attr("width", w).attr("height", h)
    .attr("rx", 2)
    .attr("fill", "white").attr("fill-opacity", 0.85)
    .attr("stroke", "#cccccc").attr("stroke-width", 0.8)
  let gx, gy
  if (loc == "upper right") { gx = right - 4.5 - w; gy = top + 4.3 }
  else if (loc == "lower left") { gx = left + 5; gy = bottom - 6.5 - h }
  else { gx = (left + right) / 2 - w / 2; gy = (top + bottom) / 2 - h / 2 }
  g.attr("transform", `translate(${gx}, ${gy})`)
}

filas.forEach((fila, i) => {
  // etiqueta de la fila
  svg.append("text")
    .attr("transform", `translate(19, ${filaCentro[i]}) rotate(-90)`)
    .attr("text-anchor", "middle")
    .attr("font-family", "DejaVu Serif")
    .attr("font-weight", "bold")
    .attr("font-size", 16)
    .attr("textLength", filaLargo[i])
    .attr("lengthAdjust", "spacingAndGlyphs")
    .text(fila)

  columnas.forEach((col, j) => {
    const left = izquierda[i][j]
    const right = derecha[j]
    const top = arriba[i]
    const bottom = abajo[i]
    const [ours, oursSd, base, baseSd] = series[i][j]

    const x = d3.scaleLinear().domain([0, 50.8]).range([left, right])
    const y = d3.scaleLinear().domain(yDominios[i]).range([bottom, top])

    const clipId = `clip-${i}-${j}`
    svg.append("clipPath").attr("id", clipId)
      .append("rect")
      .attr("x", left).attr("y", top)
      .attr("width", right - left).attr("height", bottom - top)

    const g = svg.append("g").attr("clip-path", `url(#${clipId})`)

    const banda = (m, sd, k) => d3.area()
      .x((d, t) => x(epocas[t]))
      .y0((d, t) => y(m[t] - k * sd[t]))
      .y1((d, t) => y(m[t] + k * sd[t]))(m)

    // bandas (primero el estimador, luego el baseline)
    g.append("path").attr("d", banda(ours, oursSd, 1)).attr("fill", azul).attr("fill-opacity", 0.14)
    g.append("path").attr("d", banda(ours, oursSd, factorEE)).attr("fill", azul).attr("fill-opacity", 0.3)
    g.append("path").attr("d", banda(base, baseSd, 1)).attr("fill", rojo).attr("fill-opacity", 0.14)
    g.append("path").attr("d", banda(base, baseSd, factorEE)).attr("fill", rojo).attr("fill-opacity", 0.3)

    // grid
    const grid = svg.append("g")
    grid.selectAll("line.gy").data(yTicks[i]).enter().append("line")
      .attr("x1", left).attr("x2", right)
      .attr("y1", d => y(d)).attr("y2", d => y(d))
      .attr("stroke", "#b0b0b0").attr("stroke-opacity", 0.4).attr("stroke-width", 0.8)
    grid.selectAll("line.gx").data(xTicks).enter().append("line")
      .attr("x1", d => x(d)).attr("x2", d => x(d))
      .attr("y1", top).attr("y2", bottom)
      .attr("stroke", "#b0b0b0").attr("stroke-opacity", 0.4).attr("stroke-width", 0.8)

    // lineas de la media
    const linea = d3.line().x((d, t) => x(epocas[t])).y(d => y(d))
    g.append("path").attr("d", linea(ours)).attr("fill", "none").attr("stroke", azul).attr("stroke-width", 1)
    g.append("path").attr("d", linea(base)).attr("fill", "none").attr("stroke", rojo).attr("stroke-width", 1)

    // marco
    svg.append("rect")
      .attr("x", left).attr("y", top)
      .attr("width", right - left).attr("height", bottom - top)
      .attr("fill", "none").attr("stroke", "#000").attr("stroke-width", 1)

    // ejes
    const fmt = (i == 1 || i == 2) ? d3.format(".1f") : d3.format("d")
    const yAxisGroup = svg.append("g")
      .attr("transform", `translate(${left}, 0)`)
      .call(d3.axisLeft(y).tickValues(yTicks[i]).tickSize(2.5).tickPadding(1.5).tickFormat(fmt))
    yAxisGroup.select(".domain").remove()
    yAxisGroup.attr("font-family", "DejaVu Sans").attr("font-size", 12)
    yAxisGroup.selectAll("line").attr("stroke-width", 0.8)

    const xAxisGroup = svg.append("g")
      .attr("transform", `translate(0, ${bottom})`)
      .call(d3.axisBottom(x).tickValues(xTicks).tickSize(3.5).tickPadding(2))
    xAxisGroup.select(".domain").remove()
    xAxisGroup.attr("font-family", "DejaVu Sans").attr("font-size", 12)
    xAxisGroup.selectAll("line").attr("stroke-width", 0.8)

    // titulos de ejes
    svg.append("text")
      .attr("x", (left + right) / 2)
      .attr("y", bottom + 25)
      .attr("text-anchor", "middle")
      .attr("font-family", "DejaVu Sans")
      .attr("font-size", 11)
      .text("epoch")
    svg.append("text")
      .attr("transform", `translate(${yLabelX[j]}, ${(top + bottom) / 2}) rotate(-90)`)
      .attr("text-anchor", "middle")
      .attr("font-family", "DejaVu Sans")
      .attr("font-size", 11)
      .text("L2 distance")

    dibujarLeyenda(locLeyenda[i][j], left, right, top, bottom)
  })
})
</script>
</body>
</html>
